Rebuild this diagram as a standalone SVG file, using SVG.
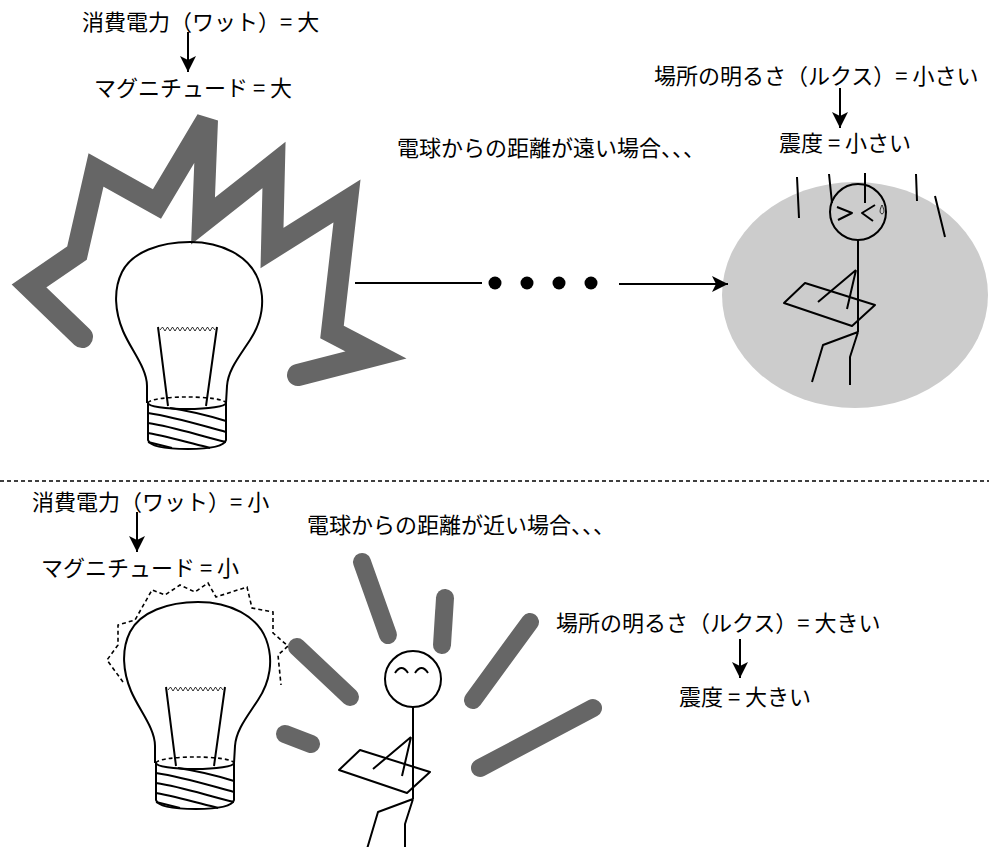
<svg xmlns="http://www.w3.org/2000/svg" width="989" height="847" viewBox="0 0 989 847">
  <style>
    .t { font-family: "Noto Sans CJK JP", "Noto Sans", sans-serif; font-size: 22px; fill: #000; }
    .ln { fill: none; stroke: #000; stroke-width: 2; stroke-linejoin: round; }
    .thin { fill: none; stroke: #000; stroke-width: 0.8; }
    .dash { fill: none; stroke: #000; stroke-width: 1.6; stroke-dasharray: 4 3; }
    .arr { fill: none; stroke: #000; stroke-width: 2; marker-end: url(#arrow); }
    .ray { fill: none; stroke: #666666; stroke-width: 18; stroke-linecap: round; }
    .bolt { fill: none; stroke: #666666; stroke-width: 22; stroke-linecap: round; stroke-linejoin: miter; stroke-miterlimit: 3.5; }
    .dot { fill: #000; }
  </style>
  <defs>
    <marker id="arrow" markerUnits="userSpaceOnUse" viewBox="0 0 16 16" refX="16" refY="8" markerWidth="16" markerHeight="16" orient="auto">
      <path d="M0,0 L16,8 L0,16 L4,8 Z" fill="#000"/>
    </marker>
    <!-- light bulb, drawn at its upper position -->
    <g id="bulb">
      <path class="ln" d="M147,403 L147,386 C147,368 131,350 123,331 C115,312 113,290 122,272 C132,252 160,242 190,242 C222,242 249,256 258,279 C266,300 262,322 250,340 C239,357 228,370 227,386 L226,403"/>
      <path class="ln" d="M158,327 L168,406 M217,327 L206,406"/>
      <polyline class="thin" points="160,330 162.5,327 165,331 167.5,327 170,331 172.5,327 175,331 177.5,327 180,331 182.5,327 185,331 187.5,327 190,331 192.5,327 195,331 197.5,327 200,331 202.5,327 205,331 207.5,327 210,331 212.5,327 215,330"/>
      <path class="dash" d="M148,403 A39,6 0 0 1 226,403"/>
      <path class="ln" d="M148,403 A39,6 0 0 0 226,403"/>
      <path class="ln" d="M148,403 L148,440 C150,447 170,449 188,449 C206,449 224,447 226,440 L226,403"/>
      <path class="ln" d="M170,408 C190,411 210,416 226,421 M148,413 C175,417 200,425 226,432 M148,423 C175,427 200,436 226,442 M148,433 C170,437 190,443 210,448 M148,442 C156,444 164,446 172,448"/>
    </g>
    <!-- stick figure holding a sheet, head centred at the origin -->
    <g id="stick">
      <circle class="ln" cx="0" cy="0" r="28"/>
      <path class="ln" d="M0,28 L0,120"/>
      <polygon class="ln" points="-53,71 17,93 -6,114 -74,91" fill="#fff"/>
      <path class="ln" d="M-2,58 L-40,90 M-2,58 L-11,97"/>
      <path class="ln" d="M0,120 L-35,133 L-46,170 M0,120 L-8,145 L-8,173"/>
    </g>
  </defs>

  <!-- ===== upper scene: far from the bulb ===== -->
  <g id="bright-bolt">
    <polyline class="bolt" points="82,337 29,286 77,253 96,170 157,204 207,120 203,221 274,165 272,248 347,201 332,332 376,355 298,375"/>
  </g>
  <g id="bulb-top"><use href="#bulb"/></g>

  <g id="lit-area">
    <ellipse cx="855" cy="295" rx="133" ry="113" fill="#cccccc"/>
  </g>
  <g id="person-far" transform="translate(858,212)">
    <use href="#stick"/>
    <path class="ln" d="M-21,-5 L-6,1 L-20,8 M17,-7 L4,1 L15,9"/>
    <path d="M24,-7 C22,-3 21,1 24,2 C27,1 26,-3 24,-7 Z" fill="none" stroke="#000" stroke-width="0.8"/>
  </g>
  <g id="rain">
    <path class="ln" d="M797,177 L799,218 M829,174 L832,203 M865,173 L865,203 M916,174 L917,201 M935,196 L945,237"/>
  </g>

  <g id="connectors">
    <line x1="355" y1="283" x2="482" y2="283" stroke="#000" stroke-width="2"/>
    <circle class="dot" cx="495" cy="283" r="6.5"/>
    <circle class="dot" cx="527" cy="283" r="6.5"/>
    <circle class="dot" cx="559" cy="283" r="6.5"/>
    <circle class="dot" cx="591" cy="283" r="6.5"/>
    <line class="arr" x1="619" y1="284" x2="728" y2="284"/>
    <line class="arr" x1="188" y1="32" x2="188" y2="72"/>
    <line class="arr" x1="840" y1="88" x2="840" y2="128"/>
    <line class="arr" x1="137" y1="512" x2="137" y2="552"/>
    <line class="arr" x1="740" y1="639" x2="740" y2="678"/>
  </g>

  <g id="labels-top">
    <text class="t" x="82" y="30">消費電力（ワット）= 大</text>
    <text class="t" x="94" y="96">マグニチュード = 大</text>
    <text class="t" x="397" y="156">電球からの距離が遠い場合、、、</text>
    <text class="t" x="654" y="84">場所の明るさ（ルクス）= 小さい</text>
    <text class="t" x="779" y="151">震度 = 小さい</text>
  </g>

  <!-- divider -->
  <line x1="0" y1="481" x2="989" y2="481" class="dash"/>

  <!-- ===== lower scene: close to the bulb ===== -->
  <g id="bulb-bottom">
    <use href="#bulb" transform="translate(8,360)"/>
    <polyline class="dash" points="123,682 107,660 118,645 118,625 135,620 152,590 165,595 180,585 195,592 208,583 216,597 247,587 252,608 273,612 273,633 288,646 278,655 281,685"/>
  </g>

  <g id="rays">
    <line class="ray" x1="362" y1="562" x2="388" y2="635"/>
    <line class="ray" x1="445" y1="598" x2="442" y2="645"/>
    <line class="ray" x1="530" y1="622" x2="473" y2="700"/>
    <line class="ray" x1="593" y1="708" x2="480" y2="768"/>
    <line class="ray" x1="297" y1="647" x2="350" y2="697"/>
    <line class="ray" x1="285" y1="734" x2="311" y2="744"/>
  </g>

  <g id="person-near" transform="translate(413,679)">
    <use href="#stick"/>
    <path class="ln" d="M-18,-6 Q-11.5,-16 -5,-6 M2,-6 Q8.5,-16 15,-6"/>
  </g>

  <g id="labels-bottom">
    <text class="t" x="32" y="510">消費電力（ワット）= 小</text>
    <text class="t" x="41" y="576">マグニチュード = 小</text>
    <text class="t" x="307" y="533">電球からの距離が近い場合、、、</text>
    <text class="t" x="556" y="631">場所の明るさ（ルクス）= 大きい</text>
    <text class="t" x="679" y="705">震度 = 大きい</text>
  </g>
</svg>
